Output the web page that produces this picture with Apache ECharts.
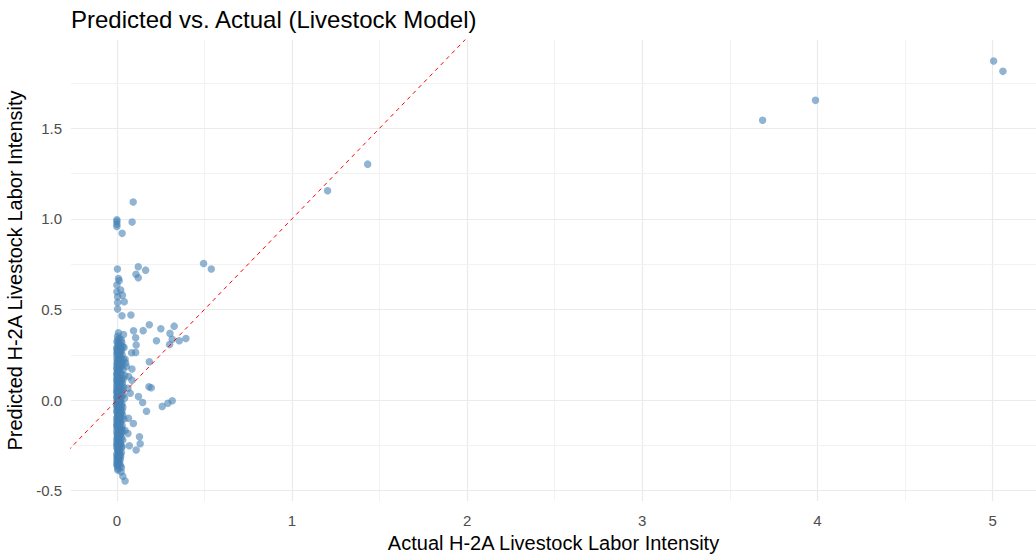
<!DOCTYPE html>
<html>
<head>
<meta charset="UTF-8">
<title>Predicted vs. Actual</title>
<script src="https://cdn.jsdelivr.net/npm/echarts@6/dist/echarts.min.js"></script>
<style>
  html, body { margin: 0; padding: 0; background: #fff; }
  #main { width: 1036px; height: 560px; }
</style>
</head>
<body>
<div id="main"></div>
<script>
// tick positions
var xTicks = [0, 1, 2, 3, 4, 5];
var xMinor = [0.5, 1.5, 2.5, 3.5, 4.5];
var yTicks = [-0.5, 0, 0.5, 1, 1.5];
var yMinor = [-0.25, 0.25, 0.75, 1.25, 1.75];

// [actual, predicted]
var points = [
  // outliers on the right
  [3.687, 1.544], [3.989, 1.654], [5.006, 1.871], [5.059, 1.814],
  [1.432, 1.302], [1.203, 1.155], [0.495, 0.754], [0.539, 0.723],
  // upper part near zero
  [0.093, 1.093], [0.087, 0.982], [0.0, 0.995], [0.0, 0.985], [0.0, 0.970], [0.0, 0.958], [0.03, 0.92],
  [0.003, 0.723], [0.122, 0.736], [0.164, 0.717], [0.109, 0.694], [0.122, 0.675],
  [0.009, 0.671], [0.013, 0.658], [0.0, 0.635], [0.022, 0.607], [0.0, 0.598], [0.032, 0.579],
  [0.004, 0.570], [0.042, 0.543], [0.004, 0.539], [0.004, 0.502], [0.029, 0.465], [0.080, 0.469],
  // middle, off the column
  [0.185, 0.416], [0.150, 0.383], [0.251, 0.394], [0.327, 0.408], [0.303, 0.368], [0.226, 0.327],
  [0.316, 0.335], [0.301, 0.307], [0.356, 0.327], [0.394, 0.340],
  [0.009, 0.371], [0.038, 0.362], [0.095, 0.382], [0.107, 0.344], [0.110, 0.304], [0.025, 0.331],
  [0.034, 0.295], [0.084, 0.261], [0.107, 0.263], [0.047, 0.225], [0.054, 0.185], [0.086, 0.171],
  [0.067, 0.130], [0.086, 0.110], [0.063, 0.065], [0.076, 0.038], [0.123, 0.019],
  [0.185, 0.211], [0.183, 0.073], [0.196, 0.068], [0.147, -0.013], [0.169, -0.062],
  [0.259, -0.035], [0.291, -0.018], [0.316, -0.004],
  // lower part
  [0.066, -0.101], [0.094, -0.129], [0.047, -0.168], [0.063, -0.185], [0.129, -0.202], [0.133, -0.241],
  [0.071, -0.252], [0.110, -0.276], [0.009, -0.300], [0.019, -0.330], [0.005, -0.350], [0.005, -0.386],
  [0.024, -0.395], [0.034, -0.421], [0.047, -0.447],
  // dense column at zero
  [0.004, 0.352], [0.015, 0.340], [0.0, 0.322], [0.028, 0.318], [0.006, 0.300], [0.041, 0.290],
  [0.0, 0.282], [0.018, 0.270], [0.002, 0.258], [0.03, 0.250], [0.01, 0.240], [0.0, 0.226],
  [0.022, 0.214], [0.05, 0.205], [0.004, 0.198], [0.016, 0.185], [0.0, 0.172], [0.035, 0.168],
  [0.008, 0.158], [0.02, 0.148], [0.0, 0.140], [0.045, 0.135], [0.012, 0.126], [0.0, 0.115],
  [0.026, 0.108], [0.006, 0.098], [0.0, 0.088], [0.018, 0.080], [0.038, 0.072], [0.002, 0.066],
  [0.01, 0.055], [0.0, 0.046], [0.028, 0.040], [0.006, 0.032], [0.016, 0.024], [0.0, 0.016],
  [0.044, 0.010], [0.008, 0.004], [0.0, -0.004], [0.022, -0.010], [0.004, -0.018], [0.012, -0.026],
  [0.0, -0.034], [0.034, -0.040], [0.006, -0.048], [0.018, -0.056], [0.0, -0.064], [0.026, -0.072],
  [0.004, -0.080], [0.014, -0.090], [0.0, -0.098], [0.04, -0.105], [0.008, -0.114], [0.02, -0.124],
  [0.0, -0.132], [0.03, -0.140], [0.006, -0.150], [0.016, -0.160], [0.0, -0.170], [0.024, -0.180],
  [0.004, -0.190], [0.012, -0.200], [0.0, -0.212], [0.034, -0.220], [0.008, -0.230], [0.018, -0.240],
  [0.0, -0.250], [0.026, -0.262], [0.004, -0.272], [0.014, -0.284], [0.0, -0.296], [0.022, -0.310],
  [0.006, -0.322], [0.0, -0.338], [0.016, -0.350], [0.004, -0.364], [0.026, -0.372],
  [0.01, 0.31], [0.0, 0.29], [0.02, 0.26], [0.0, 0.245], [0.012, 0.23], [0.0, 0.205], [0.03, 0.19],
  [0.0, 0.18], [0.008, 0.165], [0.0, 0.15], [0.025, 0.12], [0.0, 0.105], [0.012, 0.09], [0.0, 0.075],
  [0.03, 0.06], [0.0, 0.05], [0.01, 0.03], [0.0, 0.02], [0.02, 0.0], [0.0, -0.02], [0.01, -0.04],
  [0.0, -0.06], [0.02, -0.08], [0.0, -0.11], [0.01, -0.12], [0.0, -0.145], [0.02, -0.165],
  [0.0, -0.185], [0.01, -0.205], [0.0, -0.225], [0.02, -0.245], [0.0, -0.265], [0.01, -0.28],
  [0.0, -0.31], [0.012, -0.33], [0.0, -0.36],
  [0.005, 0.335], [0.022, 0.296], [0.003, 0.272], [0.014, 0.252], [0.005, 0.218], [0.025, 0.202],
  [0.002, 0.192], [0.017, 0.176], [0.004, 0.160], [0.028, 0.144], [0.006, 0.132], [0.015, 0.118],
  [0.003, 0.100], [0.032, 0.094], [0.009, 0.084], [0.002, 0.060], [0.021, 0.050], [0.007, 0.040],
  [0.036, 0.028], [0.003, 0.008], [0.015, -0.002], [0.005, -0.012], [0.029, -0.022], [0.002, -0.044],
  [0.019, -0.052], [0.008, -0.070], [0.033, -0.084], [0.003, -0.092], [0.012, -0.104], [0.024, -0.112],
  [0.004, -0.126], [0.018, -0.136], [0.002, -0.156], [0.028, -0.158], [0.009, -0.176], [0.016, -0.192],
  [0.003, -0.202], [0.026, -0.208], [0.008, -0.218], [0.002, -0.238], [0.014, -0.252], [0.030, -0.256],
  [0.005, -0.282], [0.018, -0.298], [0.003, -0.318], [0.010, -0.344], [0.020, -0.362], [0.006, -0.378],
  [0.012, 0.282], [0.024, 0.232], [0.010, 0.196], [0.002, 0.138], [0.020, 0.066], [0.011, 0.012],
  [0.024, -0.032], [0.010, -0.086], [0.002, -0.118], [0.022, -0.190], [0.010, -0.262], [0.002, -0.326],
  [0.007, 0.318], [0.019, 0.305], [0.001, 0.262], [0.027, 0.276], [0.008, 0.212], [0.038, 0.222],
  [0.014, 0.168], [0.001, 0.122], [0.036, 0.116], [0.009, 0.110], [0.023, 0.086], [0.001, 0.036],
  [0.026, 0.018], [0.012, -0.008], [0.001, -0.028], [0.016, -0.038], [0.030, -0.058], [0.006, -0.076],
  [0.021, -0.098], [0.001, -0.140], [0.012, -0.148], [0.032, -0.172], [0.006, -0.198], [0.020, -0.226],
  [0.001, -0.244], [0.012, -0.270], [0.026, -0.290], [0.008, -0.304], [0.016, -0.316], [0.001, -0.352]
];

// y = x reference line ends
var refLine = [[-0.5, -0.5], [2.2, 2.2]];

function onTick(v, list) {
  for (var i = 0; i < list.length; i++) {
    if (Math.abs(list[i] - v) < 1e-6) return true;
  }
  return false;
}

var gridLines = [];
xTicks.forEach(function (v) { gridLines.push({ xAxis: v, lineStyle: { color: '#ebebeb', width: 1.2, type: 'solid' } }); });
xMinor.forEach(function (v) { gridLines.push({ xAxis: v, lineStyle: { color: '#f2f2f2', width: 1, type: 'solid' } }); });
yTicks.forEach(function (v) { gridLines.push({ yAxis: v, lineStyle: { color: '#ebebeb', width: 1.2, type: 'solid' } }); });
yMinor.forEach(function (v) { gridLines.push({ yAxis: v, lineStyle: { color: '#f2f2f2', width: 1, type: 'solid' } }); });

var myChart = echarts.init(document.getElementById('main'), null, { renderer: 'svg' });
var option = {
  animation: false,
  backgroundColor: '#ffffff',
  title: {
    text: 'Predicted vs. Actual (Livestock Model)',
    left: 71,
    top: 7,
    padding: 0,
    textStyle: { fontFamily: 'Liberation Sans', fontSize: 24, fontWeight: 'normal', color: '#000' }
  },
  grid: { left: 71, right: 0, top: 40, bottom: 59, outerBoundsMode: 'none', containLabel: false },
  xAxis: {
    type: 'value',
    min: -0.262,
    max: 5.248,
    name: 'Actual H-2A Livestock Labor Intensity',
    nameLocation: 'middle',
    nameGap: 30,
    nameTextStyle: { fontFamily: 'Liberation Sans', fontSize: 20, color: '#000' },
    axisLine: { show: false },
    axisTick: { show: false },
    splitLine: { show: false },
    axisLabel: {
      margin: 12,
      fontFamily: 'Liberation Sans',
      fontSize: 15,
      color: '#4d4d4d',
      formatter: function (v) { return onTick(v, xTicks) ? String(Math.round(v)) : ''; }
    }
  },
  yAxis: {
    type: 'value',
    min: -0.557,
    max: 1.987,
    name: 'Predicted H-2A Livestock Labor Intensity',
    nameLocation: 'middle',
    nameGap: 41,
    nameTextStyle: { fontFamily: 'Liberation Sans', fontSize: 20, color: '#000' },
    axisLine: { show: false },
    axisTick: { show: false },
    splitLine: { show: false },
    axisLabel: {
      margin: 9,
      fontFamily: 'Liberation Sans',
      fontSize: 15,
      color: '#4d4d4d',
      formatter: function (v) { return onTick(v, yTicks) ? v.toFixed(1) : ''; }
    }
  },
  series: [
    {
      name: 'grid',
      type: 'scatter',
      data: [],
      silent: true,
      z: 1,
      markLine: {
        silent: true,
        z: 1,
        symbol: 'none',
        label: { show: false },
        emphasis: { disabled: true },
        data: gridLines
      }
    },
    {
      name: 'points',
      type: 'scatter',
      data: points,
      symbolSize: 7.5,
      z: 10,
      itemStyle: { color: '#4682b4', opacity: 0.6 }
    },
    {
      name: 'y = x',
      type: 'line',
      data: refLine,
      symbol: 'none',
      showSymbol: false,
      clip: true,
      z: 11,
      color: '#ff0000',
      itemStyle: { color: '#ff0000' },
      lineStyle: { color: '#ff0000', width: 1, type: [4, 4] },
      emphasis: { disabled: true }
    }
  ]
};
myChart.setOption(option);
</script>
</body>
</html>
